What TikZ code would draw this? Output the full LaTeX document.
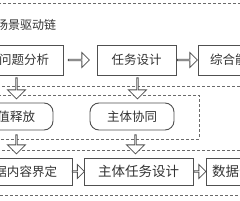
\documentclass[tikz,border=0pt]{standalone}
\usepackage{fontspec}
\newfontfamily\cjk{Noto Sans CJK SC}
\usetikzlibrary{shapes.arrows,calc}
\definecolor{ln}{HTML}{505050}
\definecolor{dl}{HTML}{6A6A6A}
\definecolor{tx}{HTML}{333333}
\tikzset{
  box/.style={draw=ln, line width=0.9pt, rectangle, inner sep=0pt, text=tx,
    font=\cjk\fontsize{12.5}{14}\selectfont, minimum height=30pt},
  bigtxt/.style={font=\cjk\fontsize{13.5}{15}\selectfont},
  rbox/.style={box, rounded corners=9pt, minimum height=27pt},
  dbox/.style={draw=dl, line width=0.8pt, dash pattern=on 3pt off 2pt},
  harrow/.style={single arrow, draw=ln, line width=0.8pt, fill=white, inner sep=0pt,
    single arrow head extend=3.5pt, minimum width=15pt, minimum height=21pt},
  harrowS/.style={harrow, minimum width=14pt, minimum height=12pt, single arrow head extend=3.5pt},
  harrowD/.style={harrow, shape border rotate=270, minimum width=18pt, single arrow head extend=4.5pt}
}
\begin{document}
\begin{tikzpicture}[x=1pt,y=-1pt]
\useasboundingbox (0,0) rectangle (240,200);
\clip (0,0) rectangle (240,200);
% dashed group frames
\draw[dbox] (-10,3) rectangle (250,86);
\draw[dbox] (-10,95) rectangle (199,139);
\draw[dbox] (-10,150) rectangle (250,195);
\node[text=tx, font=\cjk\fontsize{12}{14}\selectfont, inner sep=0pt] (title) at (26,25) {场景驱动链};
% row 1
\node[box, minimum width=78pt] (A) at (24,60) {问题分析};
\node[box, minimum width=79pt] (B) at (136.5,60) {任务设计};
\node[box, minimum width=74pt] (C) at (235,60) {综合能力};
% row 2
\node[rbox, minimum width=86pt] (R1) at (10,116.5) {价值释放};
\node[rbox, minimum width=84pt] (R2) at (132,116.5) {主体协同};
% row 3
\node[box, minimum width=105pt, minimum height=27pt] (D) at (19.5,171.5) {数据内容界定};
\node[box, bigtxt, minimum width=109pt, minimum height=27pt] (E) at (138.5,171.5) {主体任务设计};
\node[box, bigtxt, minimum width=66pt, minimum height=27pt] (F) at (239,171.5) {数据分析};
% hollow arrows
\path (A.east) -- (B.west) node[harrow, midway, xshift=-1.5pt] {};
\path (B.east) -- (C.west) node[harrow, midway, minimum height=20pt] {};
\path (A.south) -- (R1.north) node[harrowD, midway, xshift=-0.5pt, yshift=1pt] {};
\path (B.south) -- (R2.north) node[harrowD, midway, xshift=3.2pt, yshift=1pt] {};
\path (R1.south) -- (D.north) node[harrowD, midway, minimum height=19pt, xshift=1.7pt] {};
\path (R2.south) -- (E.north) node[harrowD, midway, minimum height=19pt, xshift=0.2pt] {};
\path (D.east) -- (E.west) node[harrowS, midway] {};
\path (E.east) -- (F.west) node[harrowS, midway] {};
\end{tikzpicture}
\end{document}
